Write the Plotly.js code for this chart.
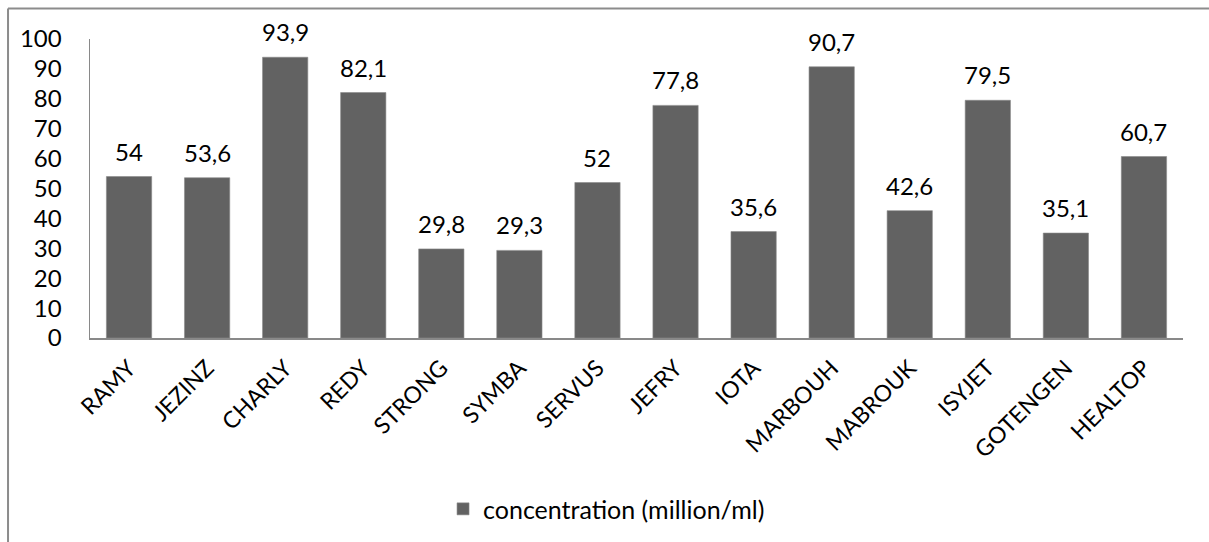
<!DOCTYPE html>
<html>
<head>
<meta charset="utf-8">
<script src="https://cdn.plot.ly/plotly-3.0.1.min.js"></script>
<style>
  html, body { margin: 0; padding: 0; background: #fff; }
  #chart { width: 1209px; height: 542px; }
</style>
</head>
<body>
<div id="chart"></div>
<script>
const categories = ["RAMY", "JEZINZ", "CHARLY", "REDY", "STRONG", "SYMBA", "SERVUS", "JEFRY", "IOTA", "MARBOUH", "MABROUK", "ISYJET", "GOTENGEN", "HEALTOP"];
const values = [54, 53.6, 93.9, 82.1, 29.8, 29.3, 52, 77.8, 35.6, 90.7, 42.6, 79.5, 35.1, 60.7];
const valueLabels = ["54", "53,6", "93,9", "82,1", "29,8", "29,3", "52", "77,8", "35,6", "90,7", "42,6", "79,5", "35,1", "60,7"];
const seriesName = "concentration (million/ml)";
const yTicks = [0, 10, 20, 30, 40, 50, 60, 70, 80, 90, 100];

const FONT = "Lato, 'Open Sans', sans-serif";

const trace = {
  type: "bar",
  x: categories,
  y: values,
  name: seriesName,
  marker: { color: "#626262", line: { color: "#8a8a8a", width: 0.6 } },
  width: 0.58,
  hoverinfo: "x+y"
};

const annotations = categories.map((c, i) => ({
  x: c, y: values[i], xref: "x", yref: "y",
  text: valueLabels[i], showarrow: false,
  yanchor: "bottom", yshift: 9,
  font: { family: FONT, size: 24, color: "#000" }
}));

const shapes = [
  { type: "line", xref: "paper", yref: "paper", x0: -0.075, x1: 1.05, y0: 1.1017, y1: 1.1017,
    line: { color: "#8c8c8c", width: 2 } },
  { type: "line", xref: "paper", yref: "paper", x0: -0.075, x1: -0.075, y0: 1.1017, y1: -0.72,
    line: { color: "#8c8c8c", width: 2 } }
];

const layout = {
  width: 1209, height: 542,
  margin: { l: 90, r: 26, t: 39, b: 203, pad: 0 },
  paper_bgcolor: "#fff", plot_bgcolor: "#fff",
  font: { family: FONT, size: 24, color: "#000" },
  showlegend: true,
  legend: {
    orientation: "h", x: 0.323, xanchor: "left", y: -0.567, yanchor: "middle",
    font: { family: FONT, size: 25, color: "#000" }
  },
  xaxis: {
    type: "category",
    tickangle: -45,
    showline: true, linecolor: "#898989", linewidth: 1.5,
    showgrid: false, ticks: "",
    ticklabelstandoff: 6,
    tickfont: { family: FONT, size: 23, color: "#000" },
    automargin: false
  },
  yaxis: {
    range: [0, 100],
    tickvals: yTicks,
    ticktext: yTicks.map(String),
    showline: true, linecolor: "#898989", linewidth: 1.5,
    showgrid: false, zeroline: false, ticks: "",
    ticklabelstandoff: 22,
    tickfont: { family: FONT, size: 24, color: "#000" },
    automargin: false
  },
  annotations: annotations,
  shapes: shapes
};

Plotly.newPlot("chart", [trace], layout, { displayModeBar: false, staticPlot: true });
</script>
</body>
</html>
